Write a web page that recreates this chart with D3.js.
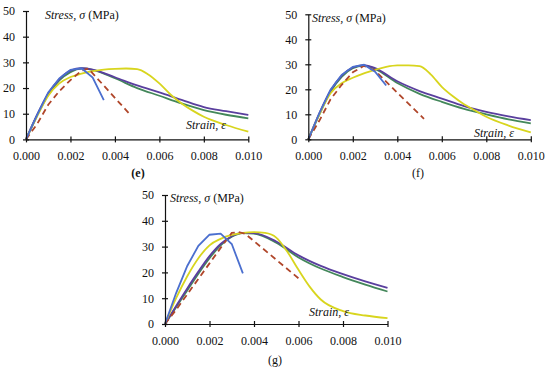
<!DOCTYPE html>
<meta charset="utf-8">
<style>
  body { margin: 0; background: #fff; }
  .tick text { font-family: "Liberation Serif", serif; font-size: 12px; fill: #111; }
  .lab { font-family: "Liberation Serif", serif; font-size: 12px; fill: #111; }
</style>
<body>
<script src="https://d3js.org/d3.v7.min.js"></script>
<script>

// tick values
var xTicks = [0, 0.002, 0.004, 0.006, 0.008, 0.010];
var yTicks = [0, 10, 20, 30, 40, 50];

// series colours
var seriesNames = ["green", "purple", "yellow", "red", "blue"];
var seriesColors = ["#43875a", "#5a3f9e", "#d8d51e", "#b0462a", "#4b6fcf"];

// (e) strain, stress (MPa) pairs
var eBlue = [[0,0],[0.0005,9.5],[0.001,18.3],[0.0015,23.8],[0.002,27.1],[0.0025,27.7],[0.003,24.1],[0.0035,15.3]];
var eRed = [[0,0],[0.0005,6],[0.001,13.5],[0.0015,18.8],[0.002,23.1],[0.0025,26.8],[0.0028,27.6],[0.0047,9.5]];
var eYellow = [[0,0],[0.0005,9],[0.001,17],[0.0015,21.8],[0.002,24.3],[0.0025,25.6],[0.003,26.6],[0.0035,27.2],[0.004,27.5],[0.0045,27.6],[0.005,27.4],[0.0055,25.3],[0.006,21.8],[0.0065,17.5],[0.007,14],[0.0075,11.2],[0.008,8.8],[0.009,5.6],[0.010,3.0]];
var eGreen = [[0,0],[0.0005,9.3],[0.001,17.4],[0.0015,23],[0.002,26.2],[0.0025,27.6],[0.003,27.1],[0.004,23.8],[0.005,20.0],[0.006,17.0],[0.007,14.0],[0.008,11.4],[0.009,9.6],[0.010,8.2]];
var ePurple = [[0,0],[0.0005,9.6],[0.001,17.9],[0.0015,23.5],[0.002,26.8],[0.0025,27.7],[0.003,27.2],[0.004,24.2],[0.005,21.0],[0.006,18.3],[0.007,15.4],[0.008,12.6],[0.009,11.0],[0.010,9.5]];

// (f)
var fBlue = [[0,0],[0.0005,10.5],[0.001,19.8],[0.0015,25.8],[0.002,29],[0.0025,29.8],[0.003,27],[0.0035,21.5]];
var fRed = [[0,0],[0.0005,7.5],[0.001,16],[0.0015,21.8],[0.002,26.8],[0.0025,29.4],[0.003,27.5],[0.004,18.6],[0.0052,8.2]];
var fYellow = [[0,0],[0.0005,10],[0.001,18.4],[0.0015,22.4],[0.002,24.6],[0.0025,26.4],[0.003,27.8],[0.0035,29],[0.004,29.6],[0.0045,29.6],[0.005,29.3],[0.0055,26],[0.006,21],[0.0065,17.2],[0.007,14],[0.0075,11.5],[0.008,9],[0.009,5.5],[0.010,2.8]];
var fGreen = [[0,0],[0.0005,10],[0.001,19],[0.0015,25],[0.002,28.4],[0.0025,29.5],[0.003,28.2],[0.004,22.5],[0.005,18.2],[0.006,15.0],[0.007,12.2],[0.008,10.0],[0.009,8.0],[0.010,6.4]];
var fPurple = [[0,0],[0.0005,10.5],[0.001,19.5],[0.0015,25.5],[0.002,28.7],[0.0025,29.7],[0.003,28.5],[0.004,23.2],[0.005,19.3],[0.006,16.3],[0.007,13.3],[0.008,11.0],[0.009,9.2],[0.010,7.7]];

// (g)
var gBlue = [[0,0],[0.0005,12],[0.001,22.5],[0.0015,30.3],[0.002,34.6],[0.0025,35],[0.003,31],[0.0035,19.6]];
var gRed = [[0,0],[0.0005,5.5],[0.001,11.5],[0.0015,17.5],[0.002,23.5],[0.0025,29.5],[0.003,35.3],[0.0033,35.6],[0.0036,35],[0.006,17.7]];
var gYellow = [[0,0],[0.0005,10],[0.001,18.5],[0.0015,25.5],[0.002,30.5],[0.0025,33],[0.003,34.5],[0.0035,35.3],[0.004,35.6],[0.0045,35.3],[0.005,33.5],[0.0055,28],[0.006,21],[0.0065,14.5],[0.007,9.5],[0.008,5],[0.009,3.3],[0.010,2.3]];
var gGreen = [[0,0],[0.0005,6.5],[0.001,13],[0.0015,19.5],[0.002,25.5],[0.0025,30.5],[0.003,33.8],[0.0035,35.2],[0.004,35],[0.005,31.5],[0.006,25.8],[0.007,21.5],[0.008,18.2],[0.009,15.3],[0.010,12.6]];
var gPurple = [[0,0],[0.0005,7],[0.001,13.8],[0.0015,20.3],[0.002,26.3],[0.0025,31],[0.003,34],[0.0035,35.3],[0.004,35.2],[0.005,32],[0.006,26.6],[0.007,22.5],[0.008,19.3],[0.009,16.5],[0.010,14.0]];

var svg = d3.select("body").append("svg")
  .attr("width", 550)
  .attr("height", 368);

var panels = [
  { x0: 26, x1: 248.3, y0: 139.4, y1: 11, cap: "(e)", capX: 138, capY: 177, bold: true,
    stress: [45, 19], strain: [186, 129],
    series: [eGreen, ePurple, eYellow, eRed, eBlue] },
  { x0: 308.3, x1: 530.8, y0: 139.3, y1: 14.3, cap: "(f)", capX: 418, capY: 177, bold: false,
    stress: [312, 22], strain: [474, 137],
    series: [fGreen, fPurple, fYellow, fRed, fBlue] },
  { x0: 165, x1: 387.5, y0: 324, y1: 195, cap: "(g)", capX: 275, capY: 364, bold: false,
    stress: [170, 202], strain: [309, 316],
    series: [gGreen, gPurple, gYellow, gRed, gBlue] }
];

panels.forEach(function (p) {
  var x = d3.scaleLinear().domain([0, 0.010]).range([p.x0, p.x1]);
  var y = d3.scaleLinear().domain([0, 50]).range([p.y0, p.y1]);

  var g = svg.append("g");

  // curves
  p.series.forEach(function (data, i) {
    var smooth = seriesNames[i] != "blue" && seriesNames[i] != "red";
    var line = d3.line()
      .x(function (d) { return x(d[0]); })
      .y(function (d) { return y(d[1]); })
      .curve(smooth ? d3.curveMonotoneX : d3.curveLinear);
    g.append("path")
      .datum(data)
      .attr("fill", "none")
      .attr("stroke", seriesColors[i])
      .attr("stroke-width", 1.8)
      .attr("stroke-dasharray", seriesNames[i] == "red" ? "6,4" : null)
      .attr("d", line);
  });

  // axes with crossing ticks
  var ax = g.append("g")
    .attr("transform", "translate(0," + p.y0 + ")")
    .call(d3.axisBottom(x).tickValues(xTicks).tickFormat(d3.format(".3f"))
      .tickSize(3).tickSizeOuter(0).tickPadding(9));
  ax.selectAll(".tick line").attr("y1", -3);

  var ay = g.append("g")
    .attr("transform", "translate(" + p.x0 + ",0)")
    .call(d3.axisLeft(y).tickValues(yTicks).tickSize(3).tickSizeOuter(0).tickPadding(8));
  ay.selectAll(".tick line").attr("x1", 3);

  g.selectAll(".domain").attr("stroke", "#111").attr("stroke-width", 1.2);
  g.selectAll(".tick line").attr("stroke", "#111").attr("stroke-width", 1.2);

  // labels
  var st = g.append("text").attr("class", "lab")
    .attr("x", p.stress[0]).attr("y", p.stress[1]);
  st.append("tspan").attr("font-style", "italic").text("Stress, σ ");
  st.append("tspan").text("(MPa)");

  g.append("text").attr("class", "lab")
    .attr("x", p.strain[0]).attr("y", p.strain[1])
    .attr("font-style", "italic")
    .text("Strain, ε");

  g.append("text").attr("class", "lab")
    .attr("x", p.capX).attr("y", p.capY)
    .attr("text-anchor", "middle")
    .attr("font-weight", p.bold ? "bold" : null)
    .text(p.cap);
});

</script>
</body>
